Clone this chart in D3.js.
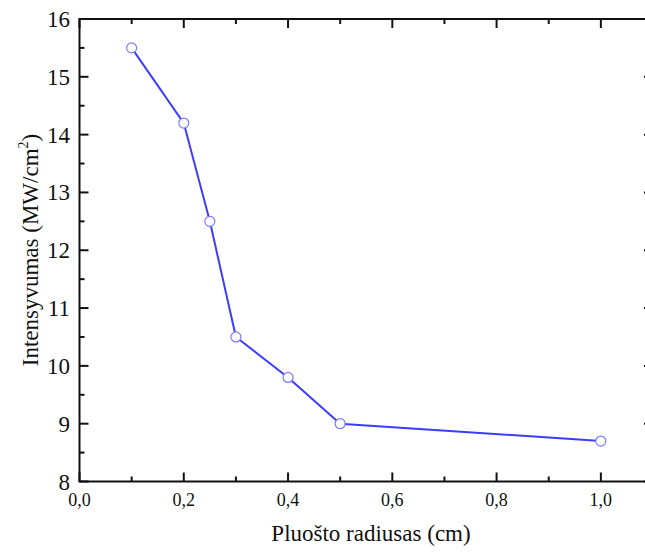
<!DOCTYPE html>
<html><head><meta charset="utf-8">
<script src="https://cdn.jsdelivr.net/npm/d3@7"></script>
<style>body{margin:0;background:#fff}svg{display:block}
svg text{font-family:"Liberation Serif","Times New Roman",Times,Tinos,"DejaVu Serif",serif;}</style>
</head><body>
<script>
const radius = [0.1, 0.2, 0.25, 0.3, 0.4, 0.5, 1.0];
const intensity = [15.5, 14.2, 12.5, 10.5, 9.8, 9.0, 8.7];
const xTicks = [0, 0.2, 0.4, 0.6, 0.8, 1.0];
const yTicks = [8, 9, 10, 11, 12, 13, 14, 15, 16];

const W = 645, H = 552;
const m = {left: 79.5, top: 19, right: 653, bottom: 481.5};
const svg = d3.select("body").append("svg").attr("width", W).attr("height", H);
const x = d3.scaleLinear().domain([0, 1.1]).range([m.left, m.right]);
const y = d3.scaleLinear().domain([8, 16]).range([m.bottom, m.top]);
const minorX = [0.1, 0.3, 0.5, 0.7, 0.9, 1.1];
const minorY = d3.range(8.5, 16, 1);

function tickLines(g, vals, axis, len) {
  vals.forEach(v => {
    if (axis === "x") {
      g.append("line").attr("x1", x(v)).attr("x2", x(v)).attr("y1", m.bottom).attr("y2", m.bottom - len);
      g.append("line").attr("x1", x(v)).attr("x2", x(v)).attr("y1", m.top).attr("y2", m.top + len);
    } else {
      g.append("line").attr("y1", y(v)).attr("y2", y(v)).attr("x1", m.left).attr("x2", m.left + len);
      g.append("line").attr("y1", y(v)).attr("y2", y(v)).attr("x1", m.right).attr("x2", m.right - len);
    }
  });
}
const tg = svg.append("g").attr("stroke", "#111").attr("stroke-width", 2);
tickLines(tg, xTicks, "x", 9);
tickLines(tg, minorX, "x", 5);
tickLines(tg, yTicks, "y", 9);
tickLines(tg, minorY, "y", 5);
svg.append("rect").attr("x", m.left).attr("y", m.top).attr("width", m.right - m.left).attr("height", m.bottom - m.top)
  .attr("fill", "none").attr("stroke", "#111").attr("stroke-width", 2);

svg.append("g").selectAll("text").data(xTicks).join("text")
  .attr("x", d => x(d)).attr("y", 506).attr("text-anchor", "middle")
  .attr("font-size", 18).attr("fill", "#111")
  .text(d => d3.format(".1f")(d).replace(".", ","));
svg.append("g").selectAll("text").data(yTicks).join("text")
  .attr("x", 70).attr("y", d => y(d) + 8).attr("text-anchor", "end")
  .attr("font-size", 23).attr("fill", "#111")
  .text(d => d);

svg.append("text").attr("x", 371).attr("y", 541).attr("text-anchor", "middle")
  .attr("font-size", 23).attr("fill", "#111")
  .text("Pluošto radiusas (cm)");
const yt = svg.append("text").attr("transform", "translate(38,250) rotate(-90)")
  .attr("text-anchor", "middle").attr("font-size", 23).attr("fill", "#111");
yt.append("tspan").text("Intensyvumas (MW/cm");
yt.append("tspan").attr("font-size", 14).attr("dy", -10).text("2");
yt.append("tspan").attr("dy", 10).text(")");

const data = radius.map((r, i) => ({r, v: intensity[i]}));
svg.append("path").datum(data).attr("fill", "none").attr("stroke", "#3c3cff").attr("stroke-width", 2)
  .attr("d", d3.line().x(d => x(d.r)).y(d => y(d.v)));
svg.append("g").selectAll("circle").data(data).join("circle")
  .attr("cx", d => x(d.r)).attr("cy", d => y(d.v)).attr("r", 5)
  .attr("fill", "#fff").attr("stroke", "#7a7aff").attr("stroke-width", 1.2);
</script>
</body></html>
